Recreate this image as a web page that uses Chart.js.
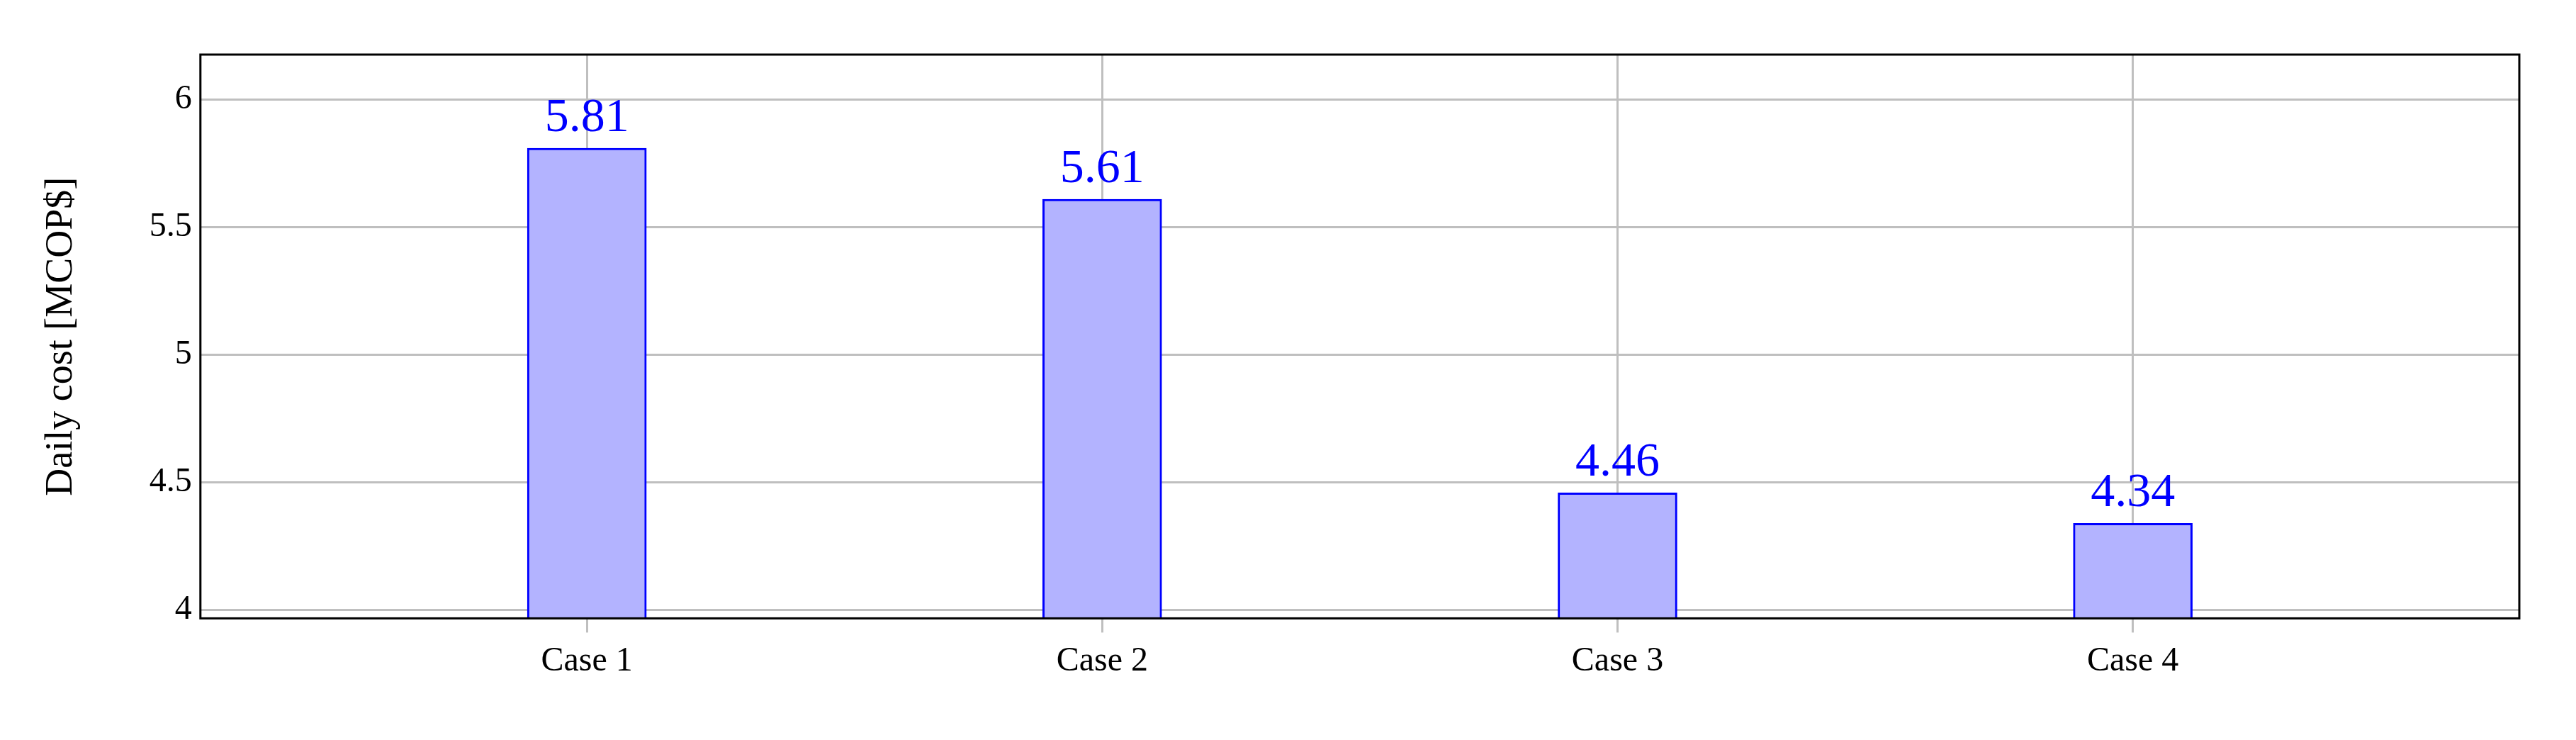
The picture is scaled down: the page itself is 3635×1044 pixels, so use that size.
<!DOCTYPE html>
<html>
<head>
<meta charset="utf-8">
<script src="https://cdn.jsdelivr.net/npm/chart.js@4/dist/chart.umd.min.js"></script>
<style>
  html, body { margin: 0; padding: 0; background: #fff; }
  canvas { display: block; }
</style>
</head>
<body>
<canvas id="costChart" width="3635" height="1044" style="width:3635px;height:1044px"></canvas>
<script>
const cases = ['Case 1', 'Case 2', 'Case 3', 'Case 4'];
const dailyCost = [5.81, 5.61, 4.46, 4.34];
const yTicks = [4, 4.5, 5, 5.5, 6];

const FONT = "'Liberation Serif', 'DejaVu Serif', serif";

// value labels above each bar
const valueLabels = {
    id: 'valueLabels',
    afterDatasetsDraw(chart) {
        const ctx = chart.ctx;
        const meta = chart.getDatasetMeta(0);
        ctx.save();
        ctx.fillStyle = '#0000ff';
        ctx.font = '68px ' + FONT;
        ctx.textAlign = 'center';
        ctx.textBaseline = 'bottom';
        meta.data.forEach((bar, i) => {
            ctx.fillText(dailyCost[i].toFixed(2), bar.x, bar.y - 8);
        });
        ctx.restore();
    }
};

// black frame around plot area
const frame = {
    id: 'frame',
    afterDraw(chart) {
        const { ctx, chartArea: a } = chart;
        ctx.save();
        ctx.strokeStyle = '#000';
        ctx.lineWidth = 3;
        ctx.strokeRect(a.left, a.top, a.right - a.left, a.bottom - a.top);
        ctx.restore();
    }
};

new Chart(document.getElementById('costChart'), {
    type: 'bar',
    data: {
        datasets: [{
            data: dailyCost.map((v, i) => ({ x: i, y: v })),
            backgroundColor: '#b3b3ff',
            borderColor: '#0000ff',
            borderWidth: 3,
            borderSkipped: false,
            barThickness: 168
        }]
    },
    options: {
        responsive: false,
        animation: false,
        devicePixelRatio: 1,
        layout: { padding: { left: 50, right: 80, top: 77, bottom: 70 } },
        plugins: { legend: { display: false }, tooltip: { enabled: false } },
        scales: {
            x: {
                type: 'linear',
                offset: false,
                min: -0.75,
                max: 3.75,
                afterBuildTicks: axis => { axis.ticks = cases.map((c, i) => ({ value: i })); },
                ticks: {
                    callback: v => cases[v],
                    color: '#000',
                    font: { family: FONT, size: 48 },
                    padding: 12
                },
                grid: { offset: false, color: '#bfbfbf', lineWidth: 3, tickLength: 20 },
                border: { display: false }
            },
            y: {
                min: 3.968,
                max: 6.177,
                afterBuildTicks: axis => { axis.ticks = yTicks.map(v => ({ value: v })); },
                ticks: {
                    callback: v => String(v),
                    color: '#000',
                    font: { family: FONT, size: 48 },
                    padding: 12
                },
                grid: { color: '#bfbfbf', lineWidth: 3, tickLength: 0 },
                border: { display: false },
                title: {
                    display: true,
                    text: 'Daily cost [MCOP$]',
                    color: '#000',
                    font: { family: FONT, size: 54 },
                    padding: { bottom: 80 }
                }
            }
        }
    },
    plugins: [valueLabels, frame]
});
</script>
</body>
</html>
